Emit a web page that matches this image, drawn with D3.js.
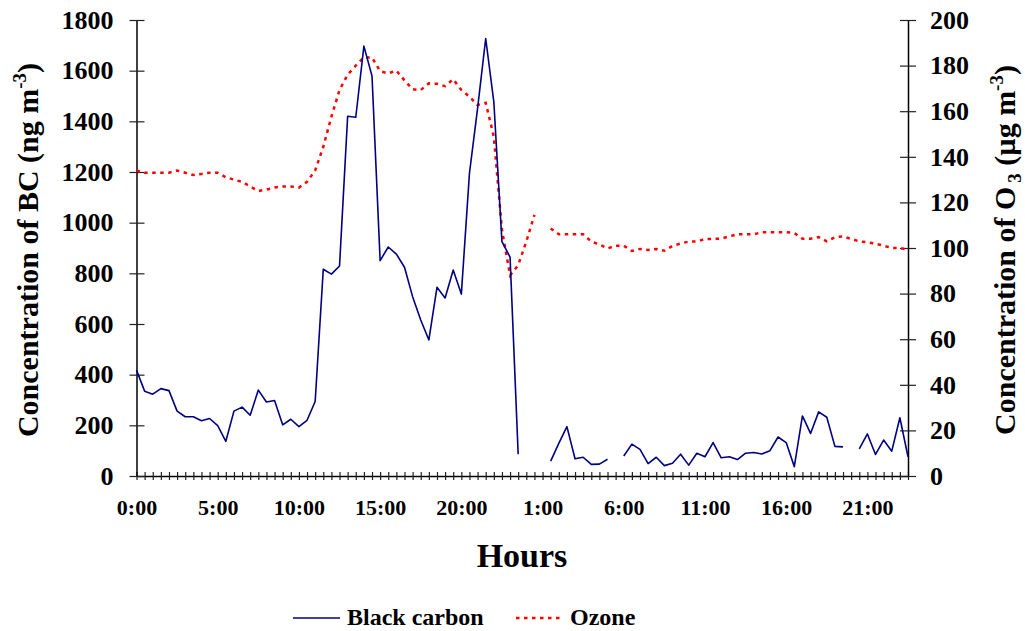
<!DOCTYPE html>
<html>
<head>
<meta charset="utf-8">
<script src="https://cdn.jsdelivr.net/npm/d3@7"></script>
<style>
  body { margin: 0; background: #fff; }
  text { font-family: "Liberation Serif", "Times New Roman", serif; font-weight: bold; fill: #000; }
</style>
</head>
<body>
<svg id="chart" width="1025" height="631"></svg>
<script>
// half-hourly categories over two days
const categories = [];
for (let d = 0; d < 2; d++) {
  for (let h = 0; h < 24; h++) {
    categories.push(h + ":00");
    categories.push(h + ":30");
  }
}

// black carbon, ng m-3 (null = missing)
const blackCarbon = [
  418, 335, 323, 345, 337, 256, 234, 234, 218, 227, 199, 137, 256, 272, 240, 339,
  292, 298, 202, 224, 195, 220, 294, 816, 797, 829, 1420, 1416, 1697, 1579, 850, 904,
  876, 824, 708, 616, 537, 745, 703, 813, 718, 1195, 1451, 1727, 1477, 925, 864, 86,
  null, null, null, 59, 129, 195, 68, 74, 46, 47, 66, null, 79, 126,
  105, 49, 74, 41, 50, 86, 43, 90, 76, 132, 72, 76, 65, 90, 93, 87,
  100, 154, 132, 37, 237, 168, 253, 232, 117, 115, null, 107, 166, 85, 142, 98,
  230, 76
];

// ozone, ug m-3 (null = missing)
const ozone = [
  134, 133, 133, 133, 133, 134, 133, 132, 132.5, 133, 133, 131, 130, 129, 127, 125,
  125.6, 126.5, 127, 127, 126.5, 129, 134, 144.4, 157.6, 169.3, 176, 180, 183.6, 183.6, 177.5, 176.6,
  177.8, 173.5, 169.6, 169.3, 172.2, 172, 171, 174, 169.3, 166.4, 162.7, 163.7, 148.8, 108, 88, 92.5,
  102.8, 114.5, null, 108.6, 106, 106, 106, 106, 102.8, 101.6, 99.8, 101, 101, 98.7,
  99.6, 99.1, 99.6, 98.8, 100.9, 102, 102.8, 102.8, 104, 104, 104.1, 105.1, 106, 106, 106, 106.9,
  106.9, 106.9, 106.9, 106.6, 104.1, 104.1, 104.8, 102.9, 104.7, 105.1, 104, 102.9, 102.5, 101.9, 101, 100,
  100, 99.3
];

const bcTicks = [0, 200, 400, 600, 800, 1000, 1200, 1400, 1600, 1800];
const o3Ticks = [0, 20, 40, 60, 80, 100, 120, 140, 160, 180, 200];

const svg = d3.select("#chart");
const plotLeft = 136.5, plotRight = 908, plotTop = 20, plotBottom = 476;

const x = d3.scalePoint().domain(d3.range(categories.length)).range([plotLeft, plotRight]);
const yBC = d3.scaleLinear().domain([0, 1800]).range([plotBottom, plotTop]);
const yO3 = d3.scaleLinear().domain([0, 200]).range([plotBottom, plotTop]);

// axes
const gx = svg.append("g")
  .attr("transform", "translate(0," + plotBottom + ")")
  .call(d3.axisBottom(x).tickSize(4).tickSizeOuter(0).tickPadding(19)
    .tickFormat(i => i % 10 === 0 ? categories[i] : ""));
gx.selectAll(".tick line").attr("y1", -4);
gx.selectAll("text").attr("font-size", "22px");

const gl = svg.append("g")
  .attr("transform", "translate(" + plotLeft + ",0)")
  .call(d3.axisLeft(yBC).tickValues(bcTicks).tickFormat(d3.format("d"))
    .tickSize(7).tickSizeOuter(0).tickPadding(16));
gl.selectAll(".tick line").attr("x1", 8);
gl.selectAll("text").attr("font-size", "26px");

const gr = svg.append("g")
  .attr("transform", "translate(" + plotRight + ",0)")
  .call(d3.axisRight(yO3).tickValues(o3Ticks).tickFormat(d3.format("d"))
    .tickSize(8).tickSizeOuter(0).tickPadding(14));
gr.selectAll(".tick line").attr("x1", -8);
gr.selectAll("text").attr("font-size", "26px");

svg.selectAll(".domain").attr("stroke", "#000").attr("stroke-width", 1.5);
svg.selectAll(".tick line").attr("stroke", "#222").attr("stroke-width", 1.2);

// lines
const bcLine = d3.line()
  .defined(d => d != null)
  .x((d, i) => x(i))
  .y(d => yBC(d));

const o3Line = d3.line()
  .defined(d => d != null)
  .x((d, i) => x(i))
  .y(d => yO3(d));

svg.append("path")
  .datum(ozone)
  .attr("d", o3Line)
  .attr("fill", "none")
  .attr("stroke", "#ff0000")
  .attr("stroke-width", 2.5)
  .attr("stroke-dasharray", "3.5,4.5");

svg.append("path")
  .datum(blackCarbon)
  .attr("d", bcLine)
  .attr("fill", "none")
  .attr("stroke", "#000080")
  .attr("stroke-width", 1.6)
  .attr("stroke-linejoin", "round");

// axis titles
const lt = svg.append("text")
  .attr("transform", "translate(38,250) rotate(-90)")
  .attr("text-anchor", "middle")
  .attr("font-size", "30px");
lt.append("tspan").text("Concentration of BC (ng m");
lt.append("tspan").attr("font-size", "19px").attr("dy", -12).text("-3");
lt.append("tspan").attr("dy", 12).text(")");

const rt = svg.append("text")
  .attr("transform", "translate(1015,250) rotate(-90)")
  .attr("text-anchor", "middle")
  .attr("font-size", "30px");
rt.append("tspan").text("Concentration of O");
rt.append("tspan").attr("font-size", "19px").attr("dx", 4).attr("dy", 6).text("3");
rt.append("tspan").attr("dy", -6).text(" (\u00b5g m");
rt.append("tspan").attr("font-size", "19px").attr("dy", -12).text("-3");
rt.append("tspan").attr("dy", 12).text(")");

svg.append("text")
  .attr("x", 522).attr("y", 567)
  .attr("text-anchor", "middle")
  .attr("font-size", "34px")
  .text("Hours");

// legend
const legend = [
  { name: "Black carbon", color: "#000080", dash: null, width: 1.6, x: 293 },
  { name: "Ozone", color: "#ff0000", dash: "3.5,4.5", width: 2.5, x: 516 }
];
const lg = svg.selectAll(".legend").data(legend).enter().append("g");
lg.append("line")
  .attr("x1", d => d.x).attr("x2", d => d.x + 47)
  .attr("y1", 618).attr("y2", 618)
  .attr("stroke", d => d.color)
  .attr("stroke-width", d => d.width)
  .attr("stroke-dasharray", d => d.dash);
lg.append("text")
  .attr("x", d => d.x + 54).attr("y", 625)
  .attr("font-size", "24px")
  .text(d => d.name);
</script>
</body>
</html>
